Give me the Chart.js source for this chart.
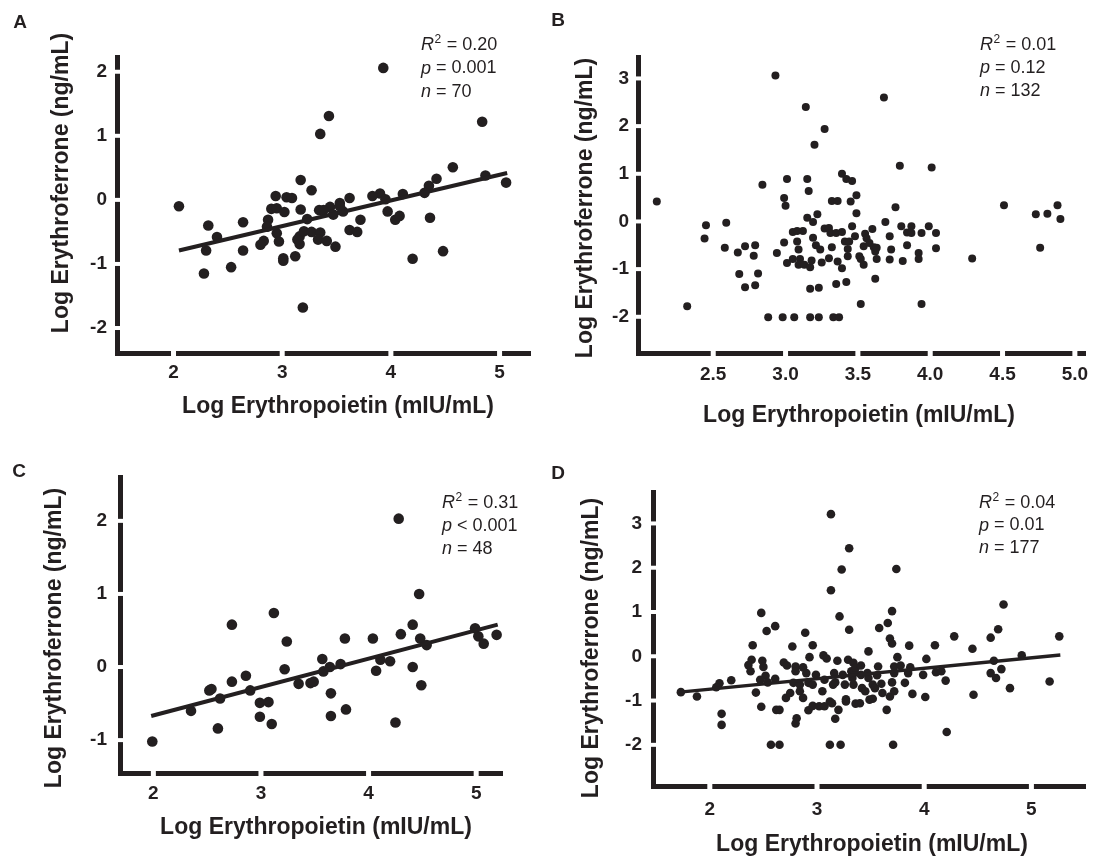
<!DOCTYPE html>
<html>
<head>
<meta charset="utf-8">
<script src="https://cdn.jsdelivr.net/npm/chart.js@4.4.1/dist/chart.umd.min.js"></script>
<style>
    html, body { margin: 0; padding: 0; background: #fff; }
    #wrap { position: relative; width: 1094px; height: 861px; overflow: hidden; }
    #wrap canvas { position: absolute; }
</style>
</head>
<body>
<div id="wrap">
    <canvas id="panelA" width="547" height="430" style="left:0;top:0"></canvas>
    <canvas id="panelB" width="547" height="430" style="left:547px;top:0"></canvas>
    <canvas id="panelC" width="547" height="431" style="left:0;top:430px"></canvas>
    <canvas id="panelD" width="547" height="431" style="left:547px;top:430px"></canvas>
</div>
<script>
/* ============================================
   Erythroferrone vs erythropoietin — 4 scatter panels
   ============================================ */

// ---- Panel A: log EPO (x) / log ERFE (y) ----
const aEpo = [3.93, 3.43, 3.35, 4.84, 2.05, 4.57, 4.87, 5.06, 4.42, 4.35, 4.31, 4.11, 3.90, 3.83, 3.95, 3.62, 3.53,
    3.44, 3.34, 3.56, 3.47, 3.17, 3.27, 2.94, 3.04, 3.09, 2.90, 2.95, 3.02, 3.17, 3.23, 2.87, 2.64, 2.32, 2.40, 2.86,
    2.95, 2.97, 2.83, 2.80, 2.64, 2.30, 2.28, 2.53, 3.01, 3.01, 3.12, 3.16, 3.16, 3.20, 3.27, 3.35, 3.33, 3.41, 3.49,
    3.62, 3.69, 3.72, 3.97, 4.04, 4.08, 4.36, 4.20, 4.48, 3.19, 3.38, 3.53, 3.14];
const aErfe = [2.06, 1.31, 1.03, 1.22, -0.10, 0.51, 0.38, 0.27, 0.33, 0.22, 0.11, 0.09, 0.10, 0.06, 0.01, 0.03, -0.05,
    -0.11, -0.16, -0.18, -0.23, 0.31, 0.15, 0.06, 0.04, 0.03, -0.14, -0.13, -0.19, -0.15, -0.30, -0.31, -0.35, -0.40,
    -0.58, -0.42, -0.52, -0.65, -0.64, -0.70, -0.79, -0.79, -1.15, -1.05, -0.91, -0.95, -0.88, -0.57, -0.69, -0.49,
    -0.50, -0.51, -0.62, -0.64, -0.73, -0.47, -0.50, -0.31, -0.18, -0.31, -0.25, -0.28, -0.92, -0.80, -1.68, -0.16,
    -0.10, -0.62];
const aFitX = [2.05, 5.07];
const aFitY = [-0.79, 0.42];

// ---- Panel B ----
const bEpo = [2.11, 2.32, 2.45, 2.44, 2.59, 2.58, 2.67, 2.72, 2.79, 2.78, 2.68, 2.72, 2.79, 2.81, 2.84, 2.88, 2.93,
    2.94, 2.98, 3.06, 2.99, 3.00, 3.01, 2.99, 3.05, 3.08, 3.12, 3.08, 3.09, 3.01, 3.05, 3.10, 3.09, 3.13, 3.17, 3.18,
    3.17, 3.23, 3.17, 3.23, 3.14, 3.20, 3.27, 3.15, 3.16, 3.15, 3.22, 3.19, 3.19, 3.21, 3.24, 3.25, 3.27, 3.30, 3.30,
    3.32, 3.36, 3.31, 3.35, 3.39, 3.32, 3.36, 3.39, 3.35, 3.33, 3.37, 3.39, 3.42, 3.46, 3.45, 3.49, 3.49, 3.46, 3.48,
    3.41, 3.44, 3.43, 3.43, 3.42, 3.51, 3.52, 3.54, 3.52, 3.54, 3.55, 3.56, 3.60, 3.58, 3.61, 3.62, 3.62, 3.63, 3.63,
    3.68, 3.69, 3.72, 3.72, 3.73, 3.76, 3.79, 3.80, 3.81, 3.84, 3.84, 3.87, 3.87, 3.92, 3.92, 3.94, 3.94, 3.99, 4.01,
    4.04, 4.04, 4.29, 4.51, 4.73, 4.76, 4.81, 4.88, 4.90];
const bErfe = [0.42, -1.78, -0.08, -0.36, -0.03, -0.55, -0.65, -0.52, -0.50, -0.72, -1.10, -1.38, -1.34, -1.09, 0.77,
    -2.01, 3.06, -0.66, -2.01, -2.01, 0.49, 0.33, 0.89, -0.44, -0.22, -0.20, -0.20, -0.42, -0.59, -0.87, -0.79, -0.79,
    -0.91, -0.91, -0.96, -0.82, -2.01, -2.01, -1.41, -1.39, 2.40, 1.61, 1.94, 0.89, 0.64, 0.08, 0.15, -0.01, -0.34,
    -0.50, -0.59, -0.86, -0.15, -0.14, -0.77, 0.43, 0.43, -0.24, -0.24, -0.22, -0.54, -0.84, -0.98, -1.31, -2.01,
    -2.01, 1.00, 0.89, 0.85, 0.42, 0.55, 0.17, -0.10, -0.31, -0.42, -0.42, -0.58, -0.73, -1.27, -0.73, -0.79, -0.91,
    -1.73, -0.52, -0.26, -0.35, -0.16, -0.45, -0.54, -0.63, -1.20, -0.55, -0.79, 2.60, -0.01, -0.31, -0.80, -0.59,
    0.30, 1.17, -0.10, -0.83, -0.23, -0.50, -0.10, -0.24, -0.66, -0.79, -0.24, -1.73, -0.10, 1.13, -0.24, -0.56,
    -0.78, 0.34, 0.15, -0.55, 0.16, 0.34, 0.05];

// ---- Panel C ----
const cEpo = [1.99, 2.35, 2.52, 2.54, 2.60, 2.62, 2.73, 2.73, 2.86, 2.90, 2.99, 3.07, 2.99, 3.10, 3.12, 3.24, 3.22,
    3.35, 3.46, 3.49, 3.57, 3.58, 3.64, 3.65, 3.65, 3.74, 3.78, 3.79, 4.04, 4.07, 4.11, 4.20, 4.25, 4.28, 4.30, 4.41,
    4.41, 4.48, 4.47, 4.49, 4.54, 4.99, 5.02, 5.07, 5.19];
const cErfe = [-1.02, -0.60, -0.32, -0.30, -0.84, -0.43, -0.20, 0.58, -0.12, -0.32, -0.49, -0.48, -0.68, -0.78, 0.74,
    0.35, -0.03, -0.23, -0.22, -0.20, 0.11, -0.06, 0.00, -0.36, -0.67, 0.04, 0.39, -0.58, 0.39, -0.05, 0.10, 0.08,
    -0.76, 2.03, 0.45, 0.58, 0.00, 0.39, 1.00, -0.25, 0.30, 0.53, 0.42, 0.32, 0.44];
const cFitX = [1.98, 5.20];
const cFitY = [-0.67, 0.58];

// ---- Panel D ----
const dEpo = [3.13, 3.30, 3.23, 3.74, 3.13, 3.21, 3.70, 3.66, 3.58, 3.30, 4.74, 4.69, 4.62, 5.26, 2.48, 2.61, 2.53,
    2.89, 2.40, 2.77, 2.96, 3.68, 3.70, 3.48, 3.86, 4.10, 4.28, 4.45, 4.91, 4.02, 3.75, 4.65, 3.06, 3.09, 3.19, 2.93,
    3.29, 2.39, 2.49, 2.36, 2.38, 2.50, 2.69, 2.72, 2.80, 2.87, 2.80, 2.90, 2.52, 2.47, 2.54, 2.61, 2.20, 2.09, 2.06,
    1.88, 1.73, 2.43, 2.48, 2.11, 2.11, 2.62, 2.65, 2.57, 2.65, 2.71, 2.75, 2.78, 2.81, 2.80, 2.84, 2.87, 2.92, 2.92,
    2.96, 2.99, 3.02, 3.07, 3.05, 3.07, 3.12, 3.14, 3.16, 3.17, 3.20, 3.17, 3.12, 3.22, 3.24, 3.26, 3.27, 3.27, 3.32,
    3.33, 3.34, 3.34, 3.35, 3.36, 3.41, 3.36, 3.40, 3.42, 3.45, 3.47, 3.48, 3.49, 3.52, 3.52, 3.54, 3.56, 3.57, 3.60,
    3.61, 3.65, 3.68, 3.70, 3.72, 3.71, 3.72, 3.72, 3.78, 3.82, 3.85, 3.87, 3.89, 3.99, 4.01, 4.11, 4.16, 4.20, 4.21,
    4.46, 4.62, 4.67, 4.72, 4.80, 5.17, 3.15, 2.96, 2.84, 3.41];
const dErfe = [3.21, 2.44, 1.96, 1.97, 1.49, 0.90, 1.02, 0.75, 0.64, 0.60, 1.17, 0.61, 0.42, 0.45, 0.98, 0.68, 0.57,
    0.53, 0.25, 0.22, 0.25, 0.40, 0.29, 0.11, 0.24, 0.25, 0.45, 0.17, 0.02, -0.06, -0.02, -0.10, 0.02, -0.05, -0.10,
    -0.02, -0.08, -0.08, -0.10, -0.20, -0.34, -0.24, -0.14, -0.21, -0.23, -0.25, -0.34, -0.38, -0.44, -0.53, -0.59,
    -0.51, -0.54, -0.61, -0.70, -0.91, -0.81, -0.82, -1.14, -1.30, -1.55, -1.21, -1.21, -2.00, -2.00, -0.94, -0.83,
    -0.60, -1.40, -1.52, -0.79, -0.94, -0.60, -1.22, -1.12, -0.42, -1.13, -1.13, -0.79, -0.53, -1.02, -1.06, -0.38,
    -0.59, -1.21, -1.41, -2.00, -2.00, -0.42, -0.64, -0.97, -1.02, -0.34, -0.49, -0.64, -0.15, -0.34, -0.26, -0.21,
    -1.07, -1.06, -0.72, -0.79, -0.38, -0.49, -0.98, -0.64, -0.96, -0.72, -0.43, -0.23, -0.62, -0.83, -1.21, -0.91,
    -0.59, -0.79, -2.00, -0.38, -0.23, -0.21, -0.60, -0.38, -0.25, -0.85, -0.42, -0.92, -0.36, -0.34, -0.55, -1.71,
    -0.87, -0.38, -0.49, -0.29, -0.72, -0.57, -0.64, -0.64, -0.64, -0.42];
const dFitX = [1.72, 5.27];
const dFitY = [-0.81, 0.03];

// ---- Tick values ----
const intTicksX = [2, 3, 4, 5];
const bTicksX = [2.5, 3.0, 3.5, 4.0, 4.5, 5.0];
const aTicksY = [-2, -1, 0, 1, 2];
const bTicksY = [-2, -1, 0, 1, 2, 3];
const cTicksY = [-1, 0, 1, 2];
const dTicksY = [-2, -1, 0, 1, 2, 3];

const X_TITLE = 'Log Erythropoietin (mIU/mL)';
const Y_TITLE = 'Log Erythroferrone (ng/mL)';

const INK = '#231f20';
const FONT = "'Liberation Sans', Arial, Helvetica, sans-serif";
Chart.defaults.font.family = FONT;

const pairs = (xs, ys) => xs.map((x, i) => ({ x, y: ys[i] }));

// white breaks cut through the thick axis lines at each tick
const axisGaps = {
    id: 'axisGaps',
    beforeDatasetsDraw(chart) {
        const { ctx, chartArea: a, scales: { x, y } } = chart;
        ctx.save();
        ctx.fillStyle = '#fff';
        x.ticks.forEach(t => { const px = x.getPixelForValue(t.value); ctx.fillRect(px - 2.5, a.bottom - 5, 5, 10); });
        y.ticks.forEach(t => { const py = y.getPixelForValue(t.value); ctx.fillRect(a.left - 5, py - 2, 10, 4); });
        ctx.restore();
    }
};

// panel letter, axis titles and R2 / p / n block
const panelText = {
    id: 'panelText',
    afterDraw(chart, args, o) {
        const ctx = chart.ctx;
        ctx.save();
        ctx.fillStyle = INK;
        ctx.textBaseline = 'middle';

        ctx.textAlign = 'center';
        ctx.font = `bold 19px ${FONT}`;
        ctx.fillText(o.letter, o.letterAt[0], o.letterAt[1]);

        ctx.font = `bold 23px ${FONT}`;
        ctx.fillText(X_TITLE, o.xTitleAt[0], o.xTitleAt[1]);
        ctx.save();
        ctx.translate(o.yTitleAt[0], o.yTitleAt[1]);
        ctx.rotate(-Math.PI / 2);
        ctx.fillText(Y_TITLE, 0, 0);
        ctx.restore();

        ctx.textAlign = 'left';
        const rows = [
            [['i', 'R'], ['s', '2'], ['r', ' = ' + o.r2]],
            [['i', 'p'], ['r', ' ' + o.p]],
            [['i', 'n'], ['r', ' = ' + o.n]]
        ];
        rows.forEach((row, i) => {
            let cx = o.statAt[0];
            const cy = o.statAt[1] + i * o.statGap;
            row.forEach(([kind, txt]) => {
                if (kind === 's') {
                    ctx.font = `12px ${FONT}`;
                    ctx.fillText(txt, cx + 0.5, cy - 5);
                    cx += ctx.measureText(txt).width + 1;
                } else {
                    ctx.font = `${kind === 'i' ? 'italic ' : ''}18px ${FONT}`;
                    ctx.fillText(txt, cx, cy);
                    cx += ctx.measureText(txt).width;
                }
            });
        });
        ctx.restore();
    }
};

function makePanel(id, p) {
    const canvas = document.getElementById(id);
    const w = canvas.width, h = canvas.height;
    const datasets = [{
        type: 'scatter', data: pairs(p.xs, p.ys),
        pointRadius: p.r, pointHoverRadius: p.r, pointBackgroundColor: INK, pointBorderWidth: 0, order: 2
    }];
    if (p.fitX) {
        datasets.push({
            type: 'line', data: pairs(p.fitX, p.fitY), borderColor: INK, borderWidth: p.lw,
            pointRadius: 0, borderCapStyle: 'butt', order: 1
        });
    }
    const tickFont = { size: 19, weight: 'bold' };
    return new Chart(canvas, {
        type: 'scatter',
        data: { datasets },
        options: {
            responsive: false, animation: false, devicePixelRatio: 1,
            layout: { padding: { left: 0, top: p.area.top, right: w - p.area.right, bottom: 0 } },
            plugins: { legend: { display: false }, tooltip: { enabled: false }, panelText: p.text },
            scales: {
                x: {
                    type: 'linear', min: p.xRange[0], max: p.xRange[1],
                    afterBuildTicks: s => { s.ticks = p.xTicks.map(v => ({ value: v })); },
                    afterFit: s => { s.height = h - p.area.bottom; s.paddingLeft = 0; s.paddingRight = 0; },
                    grid: { display: false, drawTicks: false },
                    border: { display: true, color: INK, width: 5 },
                    ticks: { color: INK, font: tickFont, padding: p.xPad, maxRotation: 0, autoSkip: false,
                        callback: v => p.xDec ? v.toFixed(p.xDec) : String(v) }
                },
                y: {
                    type: 'linear', min: p.yRange[0], max: p.yRange[1],
                    afterBuildTicks: s => { s.ticks = p.yTicks.map(v => ({ value: v })); },
                    afterFit: s => { s.width = p.area.left; s.paddingTop = 0; s.paddingBottom = 0; },
                    grid: { display: false, drawTicks: false },
                    border: { display: true, color: INK, width: 5 },
                    ticks: { color: INK, font: tickFont, padding: p.yPad, autoSkip: false, callback: v => String(v) }
                }
            }
        },
        plugins: [axisGaps, panelText]
    });
}

makePanel('panelA', {
    xs: aEpo, ys: aErfe, fitX: aFitX, fitY: aFitY, r: 5.3, lw: 4,
    area: { left: 117, top: 57, right: 530, bottom: 353 },
    xRange: [1.48, 5.28], yRange: [-2.39, 2.23], xTicks: intTicksX, yTicks: aTicksY, xPad: 8, yPad: 10,
    text: { letter: 'A', letterAt: [20, 23], xTitleAt: [338, 407], yTitleAt: [62, 183],
        statAt: [421, 45], statGap: 23.5, r2: '0.20', p: '= 0.001', n: '70' }
});

makePanel('panelB', {
    xs: bEpo, ys: bErfe, r: 4,
    area: { left: 91, top: 57, right: 538, bottom: 353 },
    xRange: [1.98, 5.07], yRange: [-2.76, 3.45], xTicks: bTicksX, yTicks: bTicksY, xDec: 1, xPad: 10, yPad: 9,
    text: { letter: 'B', letterAt: [11, 21], xTitleAt: [312, 416], yTitleAt: [39, 208],
        statAt: [433, 45], statGap: 23, r2: '0.01', p: '= 0.12', n: '132' }
});

makePanel('panelC', {
    xs: cEpo, ys: cErfe, fitX: cFitX, fitY: cFitY, r: 5.3, lw: 4,
    area: { left: 120, top: 47, right: 502, bottom: 343 },
    xRange: [1.69, 5.24], yRange: [-1.45, 2.60], xTicks: intTicksX, yTicks: cTicksY, xPad: 9, yPad: 13,
    text: { letter: 'C', letterAt: [19, 42], xTitleAt: [316, 398], yTitleAt: [55, 208],
        statAt: [442, 73], statGap: 23, r2: '0.31', p: '< 0.001', n: '48' }
});

makePanel('panelD', {
    xs: dEpo, ys: dErfe, fitX: dFitX, fitY: dFitY, r: 4.3, lw: 3.5,
    area: { left: 106, top: 62, right: 538, bottom: 356 },
    xRange: [1.47, 5.50], yRange: [-2.93, 3.71], xTicks: intTicksX, yTicks: dTicksY, xPad: 12, yPad: 11,
    text: { letter: 'D', letterAt: [11, 44], xTitleAt: [325, 415], yTitleAt: [45, 218],
        statAt: [432, 73], statGap: 22.5, r2: '0.04', p: '= 0.01', n: '177' }
});
</script>
</body>
</html>
